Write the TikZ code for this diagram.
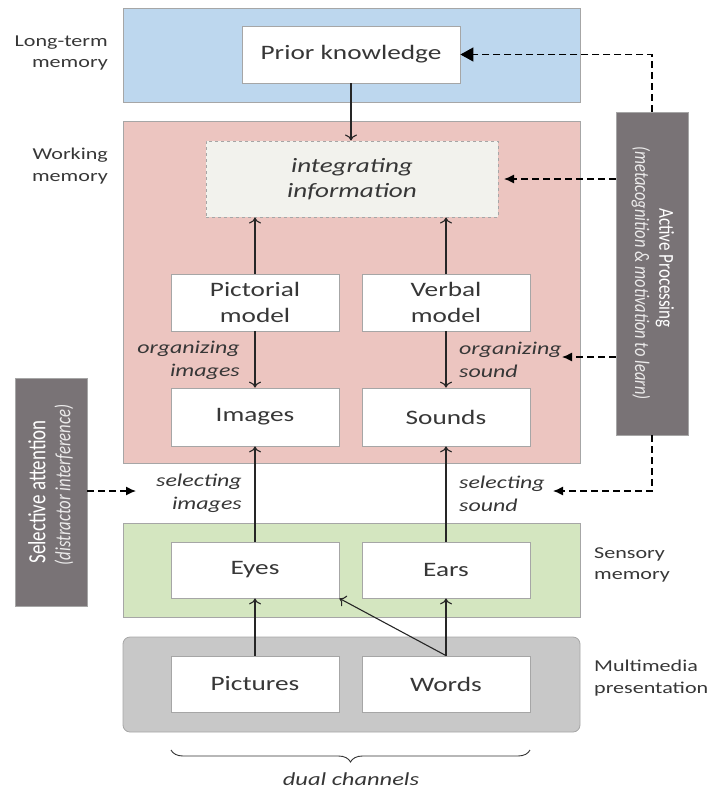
\documentclass[tikz,border=0pt]{standalone}
\usepackage{fontspec}
\setmainfont{Carlito}[FakeStretch=1.33]
\newfontfamily\rotfont{Carlito}
\usetikzlibrary{arrows.meta,decorations.pathreplacing}
\definecolor{ltblue}{RGB}{189,215,238}
\definecolor{ltpink}{RGB}{236,197,192}
\definecolor{ltgreen}{RGB}{212,230,192}
\definecolor{ltgray}{RGB}{200,200,200}
\definecolor{dkbox}{RGB}{121,115,118}
\definecolor{bordergray}{RGB}{166,166,166}
\definecolor{txt}{RGB}{55,55,55}
\definecolor{intfill}{RGB}{242,242,237}
\tikzset{
  frame/.style={draw=bordergray, line width=0.8pt, inner sep=0pt},
  box/.style={draw=bordergray, line width=0.8pt, fill=white, minimum width=168pt, minimum height=56pt, inner sep=0pt, font=\fontsize{20.5}{26}\selectfont, text=txt},
  lab/.style={font=\fontsize{16.6}{21.5}\selectfont, text=txt, align=left, inner sep=0pt},
  ilab/.style={font=\fontsize{18}{23}\selectfont\itshape, text=txt, inner sep=0pt},
  sarrow/.style={draw=black!85, line width=1.1pt, -{To[length=6pt,width=12pt]}},
  darrow/.style={draw=black, line width=1.3pt, dash pattern=on 7pt off 4pt, -{Latex[length=10pt,width=9pt]}},
  dline/.style={draw=black, line width=1.3pt, dash pattern=on 7pt off 4pt},
  side/.style={fill=dkbox, draw=bordergray, line width=0.5pt, inner sep=0pt, text=white, align=center}
}
\begin{document}
\begin{tikzpicture}[x=1pt,y=-1pt]
\useasboundingbox (0,0) rectangle (713,793);
% frames
\node[frame, fill=ltblue, minimum width=457pt, minimum height=94pt] (ltm) at (351.5,55) {};
\node[frame, fill=ltpink, minimum width=457pt, minimum height=342pt] (wm) at (351.5,292) {};
\node[frame, fill=ltgreen, minimum width=457pt, minimum height=94pt] (sm) at (351.5,570) {};
\node[frame, fill=ltgray, rounded corners=7pt, minimum width=457pt, minimum height=95pt] (mp) at (351.5,684.5) {};
% side labels
\node[lab, align=right, anchor=east] (ltml) at (108,53) {Long-term\\memory};
\node[lab, align=right, anchor=east] (wml) at (108,166) {Working\\memory};
\node[lab, anchor=west] (sml) at (594,565) {Sensory\\memory};
\node[lab, anchor=west] (mpl) at (594,678) {Multimedia\\presentation};
% boxes
\node[box, minimum width=218pt, minimum height=57pt] (pk) at (351,54.5) {Prior knowledge};
\node[draw=bordergray, dashed, line width=1pt, fill=intfill, minimum width=292pt, minimum height=76pt, align=center, font=\fontsize{20.4}{25}\selectfont\itshape, text=txt] (ii) at (352,179) {integrating\\information};
\node[box, align=center, minimum height=57pt] (pm) at (255,302.5) {Pictorial\\model};
\node[box, align=center, minimum height=57pt] (vm) at (446,302.5) {Verbal\\model};
\node[box, minimum height=58pt] (im) at (255,417) {Images};
\node[box, minimum height=58pt] (so) at (446,417) {Sounds};
\node[box] (ey) at (255,570) {Eyes};
\node[box] (ea) at (446,570) {Ears};
\node[box] (pi) at (255,684) {Pictures};
\node[box] (wo) at (446,684) {Words};
% italic labels
\node[ilab, align=right, anchor=east] (oi) at (240,360) {organizing\\images};
\node[ilab, align=left, anchor=west] (os) at (459,360) {organizing\\sound};
\node[ilab, align=right, anchor=east] (si) at (242,493.5) {selecting\\images};
\node[ilab, align=left, anchor=west] (ss) at (459,493.5) {selecting\\sound};
% side boxes
\node[side, minimum width=72pt, minimum height=323pt] (ap) at (652,273.5) {};
\node[rotate=-90, text=white, anchor=center, inner sep=0pt] (apt) at (665,268) {\scalebox{1}[1.25]{\rotfont\fontsize{17}{20}\selectfont Active Processing}};
\node[rotate=-90, text=white!85!dkbox, anchor=center, inner sep=0pt] (aps) at (641,273) {\scalebox{1}[1.25]{\rotfont\fontsize{16.5}{20}\selectfont\itshape (metacognition \& motivation to learn)}};
\node[side, minimum width=72pt, minimum height=228pt] (sa) at (51,492) {};
\node[rotate=90, text=white, anchor=center, inner sep=0pt] (sat) at (37,492) {\scalebox{1}[1.3]{\rotfont\fontsize{19}{22}\selectfont Selective attention}};
\node[rotate=90, text=white!85!dkbox, anchor=center, inner sep=0pt] (sas) at (64,485) {\scalebox{1}[1.3]{\rotfont\fontsize{16.7}{20}\selectfont\itshape (distractor interference)}};
% solid arrows
\draw[sarrow] (pk.south) -- (pk.south |- ii.north);
\draw[sarrow] (pm.north) -- (pm.north |- ii.south);
\draw[sarrow] (vm.north) -- (vm.north |- ii.south);
\draw[sarrow] (pm.south) -- (im.north);
\draw[sarrow] (vm.south) -- (so.north);
\draw[sarrow] (ey.north) -- (im.south);
\draw[sarrow] (ea.north) -- (so.south);
\draw[sarrow] (pi.north) -- (ey.south);
\draw[sarrow] (wo.north) -- (ea.south);
\draw[sarrow] (wo.north) -- (ey.south east);
% dashed arrows
\coordinate (c1) at (652,54.5);
\draw[dline, -{Triangle[length=13pt,width=14pt]}] (ap.north -| c1) -- (c1) -- (pk.east);
\coordinate (t2) at (504,179);
\draw[darrow] (ap.west |- t2) -- (t2);
\coordinate (t3) at (562,357);
\draw[darrow] (ap.west |- t3) -- (t3);
\coordinate (c4) at (652,491);
\coordinate (t4) at (553,491);
\draw[darrow] (ap.south) -- (c4) -- (t4);
\coordinate (t5) at (136,491);
\draw[darrow] (sa.east |- t5) -- (t5);
% brace
\coordinate (b1) at (171,750);
\coordinate (b2) at (530,750);
\draw[draw=black!80, line width=0.9pt, decorate, decoration={brace, amplitude=12pt}] (b2) -- (b1);
\node[ilab, font=\fontsize{18.4}{22}\selectfont\itshape] (dc) at (351,779) {dual channels};
\end{tikzpicture}
\end{document}
